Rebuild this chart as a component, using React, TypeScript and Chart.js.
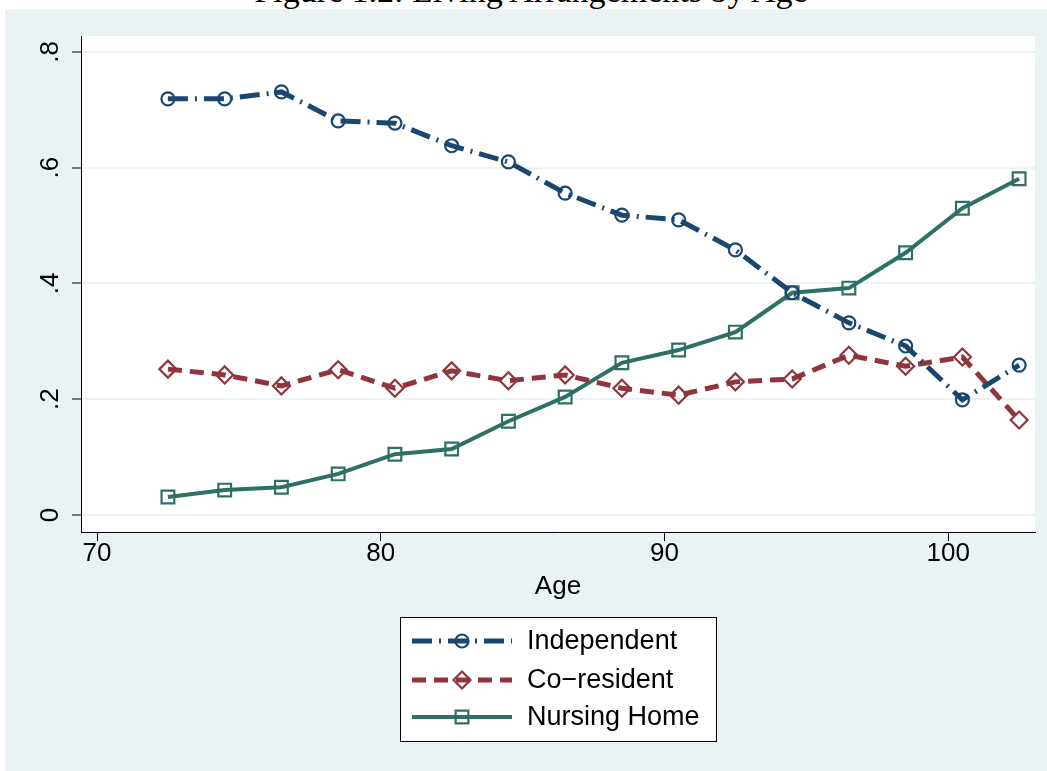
import React, { useEffect, useRef } from 'react';
import { Chart, registerables } from 'chart.js';

Chart.register(...registerables);

const titleText = 'Figure 1.2: Living Arrangements by Age';
const xAxisTitle = 'Age';
const ages = [72.5, 74.5, 76.5, 78.5, 80.5, 82.5, 84.5, 86.5, 88.5, 90.5, 92.5, 94.5, 96.5, 98.5, 100.5, 102.5];
const independent = [0.719, 0.719, 0.731, 0.681, 0.677, 0.638, 0.610, 0.556, 0.518, 0.510, 0.458, 0.384, 0.332, 0.292, 0.199, 0.259];
const coResident = [0.252, 0.242, 0.223, 0.251, 0.219, 0.249, 0.232, 0.242, 0.219, 0.207, 0.230, 0.235, 0.276, 0.257, 0.273, 0.164];
const nursingHome = [0.031, 0.043, 0.048, 0.071, 0.105, 0.114, 0.162, 0.204, 0.263, 0.285, 0.316, 0.384, 0.392, 0.453, 0.530, 0.581];
const seriesNames = ['Independent', 'Co\u2212resident', 'Nursing Home'];
const xTicks = [70, 80, 90, 100];
const yTicks = [0, 0.2, 0.4, 0.6, 0.8];

const FONT = '"Liberation Sans", Arial, Helvetica, sans-serif';
const NAVY = '#1a476f';
const MAROON = '#90353b';
const GREEN = '#2e7064';

function drawMarker(ctx: CanvasRenderingContext2D, style: string, x: number, y: number, r: number, bw: number, color: string) {
  ctx.save();
  ctx.setLineDash([]);
  ctx.lineWidth = bw;
  ctx.strokeStyle = color;
  ctx.beginPath();
  if (style === 'circle') {
    ctx.arc(x, y, r, 0, Math.PI * 2);
  } else if (style === 'rectRot') {
    ctx.moveTo(x, y - r);
    ctx.lineTo(x + r, y);
    ctx.lineTo(x, y + r);
    ctx.lineTo(x - r, y);
    ctx.closePath();
  } else {
    const s = r * Math.SQRT1_2;
    ctx.rect(x - s, y - s, 2 * s, 2 * s);
  }
  ctx.stroke();
  ctx.restore();
}

const plotBgPlugin = {
  id: 'plotBg',
  beforeDraw(chart: any) {
    const { ctx, chartArea } = chart;
    ctx.save();
    ctx.fillStyle = '#ffffff';
    ctx.fillRect(chartArea.left, chartArea.top, chartArea.right - chartArea.left, chartArea.bottom - chartArea.top);
    ctx.restore();
  },
};

const legendPlugin = {
  id: 'stataLegend',
  afterDraw(chart: any) {
    const ctx: CanvasRenderingContext2D = chart.ctx;
    const cx = (chart.chartArea.left + chart.chartArea.right) / 2;
    const bw = 316;
    const bh = 124;
    const bx = Math.round(cx - bw / 2);
    const by = chart.scales.x.bottom + 17;
    ctx.save();
    ctx.fillStyle = '#ffffff';
    ctx.fillRect(bx, by, bw, bh);
    ctx.strokeStyle = '#000000';
    ctx.lineWidth = 1;
    ctx.strokeRect(bx + 0.5, by + 0.5, bw, bh);
    const rowOffsets = [24, 63, 100];
    chart.data.datasets.forEach((ds: any, i: number) => {
      const y = by + rowOffsets[i];
      const x0 = bx + 12;
      const x1 = bx + 112;
      ctx.save();
      ctx.setLineDash(ds.borderDash || []);
      ctx.lineCap = 'butt';
      ctx.lineWidth = ds.borderWidth;
      ctx.strokeStyle = ds.borderColor;
      ctx.beginPath();
      ctx.moveTo(x0, y);
      ctx.lineTo(x1, y);
      ctx.stroke();
      ctx.restore();
      drawMarker(ctx, ds.pointStyle, (x0 + x1) / 2, y, ds.pointRadius, ds.pointBorderWidth, ds.pointBorderColor);
      ctx.fillStyle = '#000000';
      ctx.font = `27px ${FONT}`;
      ctx.textBaseline = 'middle';
      ctx.textAlign = 'left';
      ctx.fillText(ds.label, bx + 127, y + 1);
    });
    ctx.restore();
  },
};

function makePoints(vals: number[]) {
  return ages.map((a, i) => ({ x: a, y: vals[i] }));
}

export default function App() {
  const canvasRef = useRef<HTMLCanvasElement | null>(null);

  useEffect(() => {
    const canvas = canvasRef.current;
    if (!canvas) return;
    const chart = new Chart(canvas, {
      type: 'line',
      data: {
        datasets: [
          {
            label: seriesNames[0],
            data: makePoints(independent),
            borderColor: NAVY,
            borderWidth: 5,
            borderDash: [20, 7, 2, 7],
            borderCapStyle: 'butt',
            pointStyle: 'circle',
            pointRadius: 6.5,
            pointBorderWidth: 2.2,
            pointBorderColor: NAVY,
            pointBackgroundColor: 'rgba(0,0,0,0)',
            tension: 0,
            fill: false,
          },
          {
            label: seriesNames[1],
            data: makePoints(coResident),
            borderColor: MAROON,
            borderWidth: 5,
            borderDash: [14, 8],
            borderCapStyle: 'butt',
            pointStyle: 'rectRot',
            pointRadius: 8.5,
            pointBorderWidth: 2.2,
            pointBorderColor: MAROON,
            pointBackgroundColor: 'rgba(0,0,0,0)',
            tension: 0,
            fill: false,
          },
          {
            label: seriesNames[2],
            data: makePoints(nursingHome),
            borderColor: GREEN,
            borderWidth: 4,
            borderDash: [],
            pointStyle: 'rect',
            pointRadius: 9,
            pointBorderWidth: 2.2,
            pointBorderColor: GREEN,
            pointBackgroundColor: 'rgba(0,0,0,0)',
            tension: 0,
            fill: false,
          },
        ] as any,
      },
      options: {
        animation: false,
        responsive: false,
        devicePixelRatio: 1,
        events: [],
        layout: { padding: { left: 0, top: 27, right: 12, bottom: 171 } },
        plugins: {
          legend: { display: false },
          tooltip: { enabled: false },
          title: { display: false },
        },
        scales: {
          x: {
            type: 'linear',
            min: 69.436,
            max: 103.06,
            afterBuildTicks: (s: any) => {
              s.ticks = xTicks.map((v) => ({ value: v }));
            },
            afterFit: (s: any) => {
              s.height = 68;
            },
            grid: { drawOnChartArea: false, drawTicks: true, tickLength: 9, tickColor: '#000000', tickWidth: 1 },
            border: { color: '#000000', width: 1 },
            ticks: {
              color: '#000000',
              font: { family: FONT, size: 26, lineHeight: 1 },
              padding: 0,
              maxRotation: 0,
              minRotation: 0,
              autoSkip: false,
            },
            title: {
              display: true,
              text: xAxisTitle,
              color: '#000000',
              font: { family: FONT, size: 26, lineHeight: 1 },
              padding: { top: 0, bottom: 0 },
            },
          },
          y: {
            type: 'linear',
            min: -0.0294,
            max: 0.8276,
            afterBuildTicks: (s: any) => {
              s.ticks = yTicks.map((v) => ({ value: v }));
            },
            afterFit: (s: any) => {
              s.width = 76;
            },
            grid: { drawOnChartArea: true, color: '#eaf2f3', lineWidth: 2, drawTicks: true, tickLength: 9, tickColor: '#000000', tickWidth: 1 },
            border: { color: '#000000', width: 1 },
            ticks: {
              color: '#000000',
              font: { family: FONT, size: 26, lineHeight: 1 },
              padding: 10,
              minRotation: 90,
              maxRotation: 90,
              crossAlign: 'center',
              autoSkip: false,
              callback: (v: any) => (Number(v) === 0 ? '0' : Number(v).toFixed(1).replace(/^0/, '')),
            },
          },
        },
      } as any,
      plugins: [plotBgPlugin, legendPlugin],
    });
    return () => chart.destroy();
  }, []);

  return (
    <div style={{ position: 'absolute', left: 0, top: 0, width: 1047, height: 771, background: '#ffffff', overflow: 'hidden' }}>
      <div
        style={{
          position: 'absolute',
          left: 0,
          width: 1062,
          top: -26,
          height: 34,
          lineHeight: '34px',
          textAlign: 'center',
          fontFamily: '"Liberation Serif", "Times New Roman", serif',
          fontSize: 34,
          color: '#000000',
          whiteSpace: 'nowrap',
        }}
      >
        {titleText}
      </div>
      <canvas
        ref={canvasRef}
        width={1042}
        height={762}
        style={{ position: 'absolute', left: 5, top: 9, width: 1042, height: 762, background: '#eaf2f3' }}
      />
    </div>
  );
}
